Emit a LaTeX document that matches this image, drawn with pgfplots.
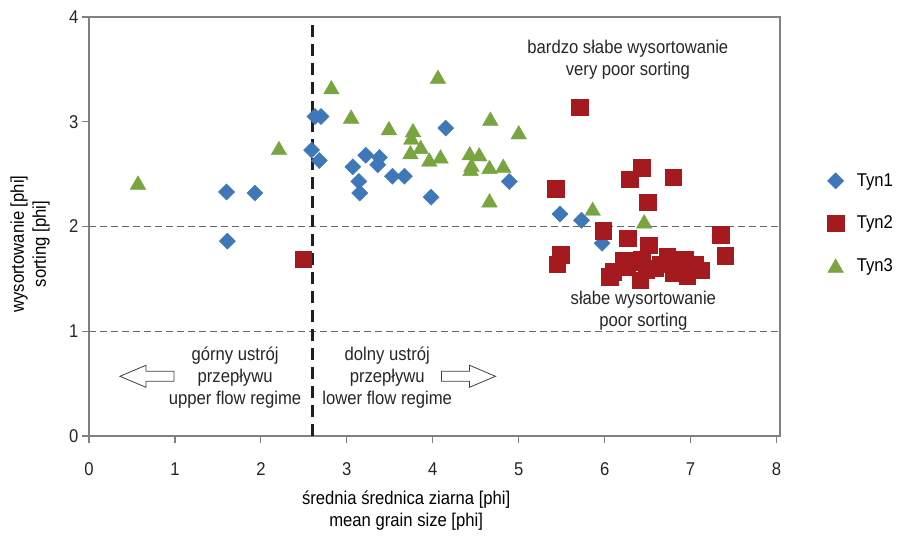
\documentclass[border=0pt]{standalone}
\usepackage{pgfplots}
\pgfplotsset{compat=1.18}
\usepackage{fontspec}
\setmainfont{Liberation Sans}[FakeStretch=0.9]
\definecolor{tynblue}{HTML}{3F78B8}
\definecolor{tynred}{HTML}{A51A1E}
\definecolor{tyngreen}{HTML}{78A540}
\definecolor{axisgray}{HTML}{808080}

\begin{document}
\begin{tikzpicture}[font=\fontsize{18.5}{22}\selectfont]
\begin{axis}[
  scale only axis,
  width=691pt, height=419pt,
  xmin=0, xmax=8.04, ymin=0, ymax=4,
  xtick={0,1,...,8}, ytick={0,1,...,4},
  /pgf/number format/assume math mode=true,
  axis line style={axisgray, line width=1.2pt},
  tick style={axisgray, line width=1.2pt},
  tick align=outside, major tick length=7pt,
  xtick pos=bottom, ytick pos=left,
  xticklabel style={yshift=-16pt},
  yticklabel style={xshift=0pt},
  ticklabel style={text=black!85},
  xlabel={średnia średnica ziarna [phi]\\mean grain size [phi]},
  ylabel={wysortowanie [phi]\\sorting [phi]},
  xlabel style={align=center, at={(axis description cs:0.459,-0.178)}, anchor=center},
  ylabel style={align=center, at={(axis description cs:-0.0854,0.458)}, anchor=center},
  legend style={draw=none, fill=none, at={(axis description cs:1.064,0.636)},
    anchor=north west, row sep=24pt, column sep=11pt},
  legend cell align=left,
  clip=false,
]
% Tyn1
\addplot[only marks, color=tynblue, mark=square*, mark size=5.7pt,
  mark options={rotate=45, draw=tynblue, fill=tynblue}] coordinates {
  (1.60,2.33) (1.93,2.32) (1.61,1.86) (2.63,3.05) (2.70,3.05) (2.59,2.73)
  (2.68,2.63) (3.07,2.57) (3.22,2.68) (3.38,2.66) (3.36,2.59) (3.14,2.43)
  (3.15,2.32) (3.53,2.48) (3.67,2.48) (4.15,2.94) (3.98,2.28) (4.89,2.43)
  (5.48,2.12) (5.73,2.06) (5.97,1.84)
};
\addlegendentry{Tyn1}
% Tyn2
\addplot[only marks, color=tynred, mark=square*, mark size=8.2pt,
  mark options={draw=tynred, fill=tynred}] coordinates {
  (2.49,1.69) (5.71,3.14) (5.43,2.36) (6.43,2.56) (6.29,2.45) (6.80,2.47)
  (6.50,2.23) (5.98,1.96) (6.27,1.89) (7.35,1.92) (7.40,1.72) (5.49,1.73)
  (5.45,1.64) (6.51,1.82)
  (6.22,1.68) (6.43,1.69) (6.73,1.71) (6.93,1.69) (6.06,1.52) (6.10,1.57)
  (6.41,1.49) (6.58,1.60) (6.80,1.56) (6.96,1.53) (7.12,1.58) (6.26,1.61)
  (6.32,1.66) (6.65,1.64) (7.05,1.64) (6.48,1.58) (6.88,1.60)
};
\addlegendentry{Tyn2}
% Tyn3
\addplot[only marks, color=tyngreen, mark=triangle*, mark size=9pt,
  mark options={draw=tyngreen, fill=tyngreen, yshift=-2.3pt}] coordinates {
  (2.82,3.33) (4.06,3.43) (3.05,3.05) (2.21,2.75) (0.57,2.42) (3.49,2.94)
  (3.77,2.92) (3.75,2.85) (3.86,2.76) (3.74,2.71) (3.96,2.64) (4.09,2.67)
  (4.67,3.03) (5.00,2.90) (4.43,2.70) (4.54,2.69) (4.45,2.59) (4.44,2.55)
  (4.66,2.57) (4.82,2.58) (4.66,2.25) (5.86,2.17) (6.46,2.05)
};
\addlegendentry{Tyn3}
% reference lines
\addplot[forget plot, black!60, line width=1.2pt, dash pattern=on 7pt off 4pt]
  coordinates {(0,2) (8.04,2)};
\addplot[forget plot, black!60, line width=1.2pt, dash pattern=on 7pt off 4pt]
  coordinates {(0,1) (8.04,1)};
\addplot[forget plot, black!88, line width=2.5pt, dash pattern=on 12pt off 7pt]
  coordinates {(2.6,0) (2.6,3.95)};
% annotations
\node[align=center, text=black!85] at (axis cs:6.27,3.595) {bardzo słabe wysortowanie\\very poor sorting};
\node[align=center, text=black!85] at (axis cs:6.45,1.20) {słabe wysortowanie\\poor sorting};
\node[align=center, text=black!85] at (axis cs:1.70,0.555) {górny ustrój\\przepływu\\upper flow regime};
\node[align=center, text=black!85] at (axis cs:3.47,0.555) {dolny ustrój\\przepływu\\lower flow regime};
\draw[black!75, line width=0.8pt, fill=white] (axis cs:0.36,0.57)
  -- ++(26pt,11pt) -- ++(0,-6pt) -- ++(28pt,0) -- ++(0,-10pt)
  -- ++(-28pt,0) -- ++(0,-6pt) -- cycle;
\draw[black!75, line width=0.8pt, fill=white] (axis cs:4.73,0.57)
  -- ++(-26pt,11pt) -- ++(0,-6pt) -- ++(-28pt,0) -- ++(0,-10pt)
  -- ++(28pt,0) -- ++(0,-6pt) -- cycle;
\coordinate (sw) at (rel axis cs:0,0);
\end{axis}
\pgfresetboundingbox
\path ([shift={(-89pt,-105pt)}]sw) rectangle ([shift={(812pt,436pt)}]sw);
\end{tikzpicture}
\end{document}
